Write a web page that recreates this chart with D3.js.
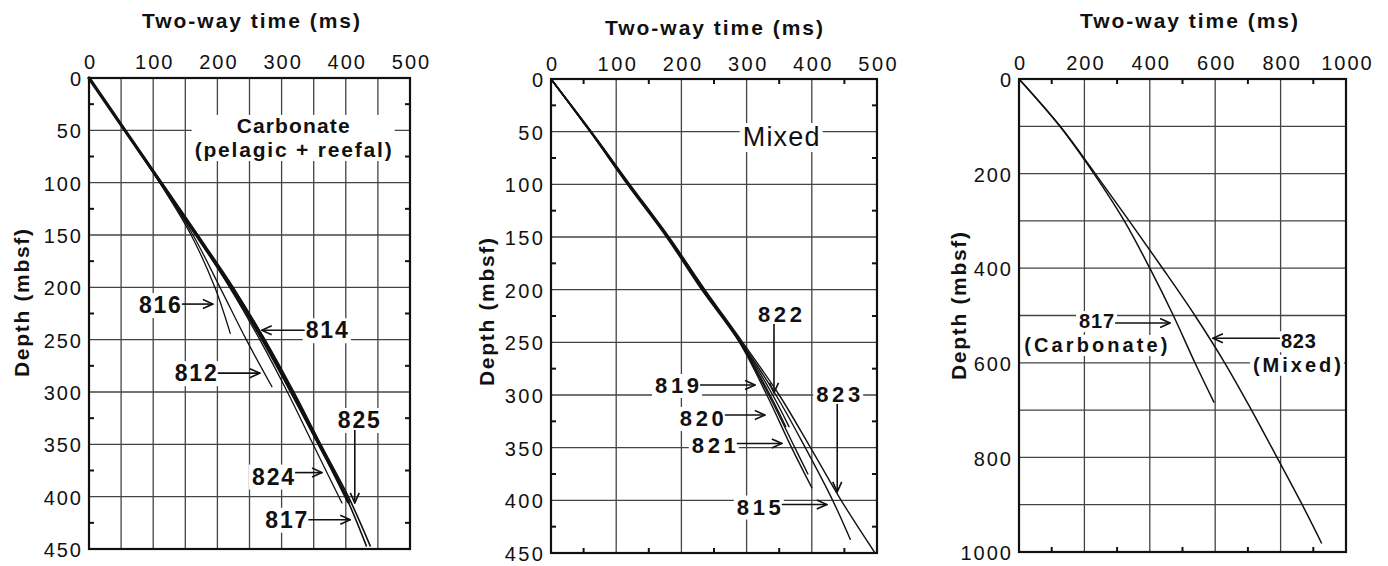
<!DOCTYPE html>
<html><head><meta charset="utf-8">
<script src="https://cdn.jsdelivr.net/npm/d3@7"></script>
<style>
html,body{margin:0;padding:0;background:#fff;}
svg{display:block;}
</style></head><body>
<svg id="chart" width="1388" height="566"></svg>
<script>
// ---------- tick labels ----------
const carbTimeTicks = [0, 100, 200, 300, 400, 500];
const carbDepthTicks = [0, 50, 100, 150, 200, 250, 300, 350, 400, 450];
const mixedTimeTicks = [0, 100, 200, 300, 400, 500];
const mixedDepthTicks = [0, 50, 100, 150, 200, 250, 300, 350, 400, 450];
const compTimeTicks = [0, 200, 400, 600, 800, 1000];
const compDepthTicks = [0, 200, 400, 600, 800, 1000];

// ---------- Carbonate panel: [two-way time ms, depth mbsf] ----------
const site812 = [[0,0],[56,50],[111,100],[162,150],[204,200],[245,250],[285,295]];
const site816 = [[0,0],[56,50],[110,100],[159,150],[196,200],[220,244]];
const site814 = [[0,0],[56,50],[112,100],[168,150],[223,200],[272,250],[316,300],[359,350],[404,405]];
const site825 = [[0,0],[55,50],[111,100],[166,150],[220,200],[269,250],[314,300],[357,350],[400,400],[432,447]];
const site817 = [[0,0],[56,50],[113,100],[169,150],[224,200],[274,250],[319,300],[361,350],[404,400],[438,447]];
const site824 = [[0,0],[56,50],[112,100],[167,150],[219,200],[266,250],[309,300],[349,350],[394,406]];

// ---------- Mixed panel ----------
const site819 = [[0,0],[60,50],[118,100],[178,150],[232,200],[290,250],[336,300],[360,330]];
const site820 = [[0,0],[61,50],[119,100],[179,150],[233,200],[290,250],[334,300],[374,350],[394,375]];
const site821 = [[0,0],[60,50],[117,100],[177,150],[231,200],[289,250],[331,300],[369,350],[400,388]];
const site822 = [[0,0],[61,50],[119,100],[180,150],[234,200],[291,250],[340,300],[365,330]];
const site815 = [[0,0],[61,50],[120,100],[180,150],[235,200],[292,250],[345,300],[390,350],[432,400],[459,437]];
const site823 = [[0,0],[62,50],[121,100],[181,150],[236,200],[294,250],[350,300],[398,350],[445,400],[497,450]];

// ---------- Comparison panel ----------
const compare817 = [[0,0],[125,100],[229,200],[322,300],[400,400],[472,500],[538,600],[596,683]];
const compare823 = [[0,0],[126,100],[233,200],[337,300],[439,400],[538,500],[629,600],[711,700],[789,800],[866,900],[925,981]];

const FONT = '"Liberation Sans", Arial, Helvetica, sans-serif';
const INK = "#111";
const svg = d3.select("#chart");

svg.append("defs").append("marker")
  .attr("id", "arrowHead").attr("viewBox", "0 0 12 12")
  .attr("refX", 11).attr("refY", 6)
  .attr("markerWidth", 12).attr("markerHeight", 12)
  .attr("markerUnits", "userSpaceOnUse").attr("orient", "auto")
  .append("path").attr("d", "M1,1.5 L11,6 L1,10.5")
  .attr("fill", "none").attr("stroke", INK).attr("stroke-width", 1.6);

const panels = [
  {
    x0: 89, x1: 410, y0: 78, y1: 549, tmax: 500, dmax: 450,
    timeTicks: carbTimeTicks, depthTicks: carbDepthTicks,
    vGrid: d3.range(50, 500, 50), hGrid: d3.range(50, 450, 50),
    tMinor: [], dMinor: d3.range(25, 450, 50),
    titleX: 251, titleY: 28, yTitleX: 29, yTitleY: 303, topPad: 9, tickFs: 20, tickLs: 2,
    series: [
      {data: site816, w: 1.3}, {data: site812, w: 1.3}, {data: site824, w: 1.3},
      {data: site825, w: 1.6}, {data: site817, w: 1.6}, {data: site814, w: 3.2}
    ],
    notes: [
      {text: "816", tip: [193, 216], dir: "right", len: 31, dy: 9},
      {text: "814", tip: [269, 241], dir: "left", len: 43, dy: 8},
      {text: "812", tip: [266, 282], dir: "right", len: 42, dy: 8},
      {text: "824", tip: [363, 377], dir: "right", len: 27, dy: 12},
      {text: "817", tip: [407, 422], dir: "right", len: 42, dy: 8},
      {text: "825", tip: [414, 406], dir: "down", len: 73, dx: 4}
    ],
    noteFs: 23, noteTl: 42,
    texts: [
      {text: "Carbonate", at: [318, 52.5], fs: 21, weight: "bold", tl: 113, group: "c"},
      {text: "(pelagic + reefal)", at: [318, 75.5], fs: 21, weight: "bold", tl: 197, group: "c"}
    ]
  },
  {
    x0: 551, x1: 877, y0: 79, y1: 553, tmax: 500, dmax: 450,
    timeTicks: mixedTimeTicks, depthTicks: mixedDepthTicks,
    vGrid: d3.range(100, 500, 100), hGrid: d3.range(50, 450, 50),
    tMinor: d3.range(50, 500, 100), dMinor: d3.range(25, 450, 50),
    titleX: 714, titleY: 35, yTitleX: 494, yTitleY: 312, topPad: 8, tickFs: 20, tickLs: 2.5,
    series: [
      {data: site819, w: 1.4}, {data: site820, w: 1.4}, {data: site821, w: 1.4},
      {data: site822, w: 1.4}, {data: site815, w: 1.4}, {data: site823, w: 1.4}
    ],
    notes: [
      {text: "822", tip: [342, 298], dir: "down", len: 69, dx: 6},
      {text: "819", tip: [313, 290.5], dir: "right", len: 55, dy: 8},
      {text: "820", tip: [328, 319], dir: "right", len: 40, dy: 11},
      {text: "821", tip: [354, 346], dir: "right", len: 45, dy: 10},
      {text: "823", tip: [439, 392], dir: "down", len: 88, dx: 1},
      {text: "815", tip: [423, 404], dir: "right", len: 45, dy: 10}
    ],
    noteFs: 22, noteTl: 44,
    texts: [
      {text: "Mixed", at: [353, 63.6], fs: 27, weight: "normal", tl: 77, group: "m"}
    ]
  },
  {
    x0: 1019, x1: 1346, y0: 79, y1: 552, tmax: 1000, dmax: 1000,
    timeTicks: compTimeTicks, depthTicks: compDepthTicks,
    vGrid: d3.range(200, 1000, 200), hGrid: d3.range(100, 1000, 100),
    tMinor: d3.range(100, 1000, 200), dMinor: [],
    titleX: 1189, titleY: 28, yTitleX: 966, yTitleY: 306, topPad: 9, tickFs: 20, tickLs: 2,
    series: [
      {data: compare817, w: 1.5}, {data: compare823, w: 1.5}
    ],
    notes: [
      {text: "817", tip: [462, 516], dir: "right", len: 55, dy: 5},
      {text: "823", tip: [593, 548], dir: "left", len: 67, dy: 10}
    ],
    noteFs: 20, noteTl: 35,
    texts: [
      {text: "(Carbonate)", at: [235, 577], fs: 20, weight: "bold", tl: 143, group: "a"},
      {text: "(Mixed)", at: [850, 619], fs: 20, weight: "bold", tl: 88, group: "b"}
    ]
  }
];

function drawPanel(p) {
  const x = d3.scaleLinear().domain([0, p.tmax]).range([p.x0, p.x1]);
  const y = d3.scaleLinear().domain([0, p.dmax]).range([p.y0, p.y1]);
  const g = svg.append("g");

  // grid
  g.append("g").selectAll("line").data(p.vGrid).join("line")
    .attr("x1", d => x(d)).attr("x2", d => x(d)).attr("y1", p.y0).attr("y2", p.y1)
    .attr("stroke", "#444").attr("stroke-width", 1.3);
  g.append("g").selectAll("line").data(p.hGrid).join("line")
    .attr("y1", d => y(d)).attr("y2", d => y(d)).attr("x1", p.x0).attr("x2", p.x1)
    .attr("stroke", "#444").attr("stroke-width", 1.3);

  // minor ticks (inward)
  const mt = g.append("g").attr("stroke", INK).attr("stroke-width", 2);
  p.tMinor.forEach(t => {
    mt.append("line").attr("x1", x(t)).attr("x2", x(t)).attr("y1", p.y0).attr("y2", p.y0 + 5);
    mt.append("line").attr("x1", x(t)).attr("x2", x(t)).attr("y1", p.y1).attr("y2", p.y1 - 5);
  });
  p.dMinor.forEach(d => {
    mt.append("line").attr("y1", y(d)).attr("y2", y(d)).attr("x1", p.x0).attr("x2", p.x0 + 5);
    mt.append("line").attr("y1", y(d)).attr("y2", y(d)).attr("x1", p.x1).attr("x2", p.x1 - 5);
  });

  // axes
  const ax = g.append("g").attr("transform", `translate(0,${p.y0})`)
    .call(d3.axisTop(x).tickValues(p.timeTicks).tickSize(0).tickPadding(p.topPad).tickFormat(d3.format("d")));
  ax.select(".domain").remove();
  ax.selectAll("text").attr("font-family", FONT).attr("font-size", p.tickFs)
    .attr("fill", INK).style("letter-spacing", p.tickLs + "px").attr("dx", (p.tickLs / 2) + "px");
  const ay = g.append("g").attr("transform", `translate(${p.x0},0)`)
    .call(d3.axisLeft(y).tickValues(p.depthTicks).tickSize(0).tickPadding(8 - p.tickLs).tickFormat(d3.format("d")));
  ay.select(".domain").remove();
  ay.selectAll("text").attr("font-family", FONT).attr("font-size", p.tickFs)
    .attr("fill", INK).attr("dy", "0.38em").style("letter-spacing", p.tickLs + "px");

  // titles
  g.append("text").attr("x", p.titleX).attr("y", p.titleY).attr("text-anchor", "middle")
    .attr("font-family", FONT).attr("font-size", 21).attr("font-weight", "bold").attr("fill", INK)
    .attr("textLength", 218).attr("lengthAdjust", "spacing").text("Two-way time (ms)");
  g.append("text").attr("transform", `translate(${p.yTitleX},${p.yTitleY}) rotate(-90)`)
    .attr("text-anchor", "middle")
    .attr("font-family", FONT).attr("font-size", 21).attr("font-weight", "bold").attr("fill", INK)
    .attr("textLength", 148).attr("lengthAdjust", "spacing").text("Depth (mbsf)");

  // labels: background boxes first, then text
  const boxLayer = g.append("g");
  const textLayer = g.append("g");
  const boxes = {};
  const addBox = (key, bb) => {
    if (!boxes[key]) boxes[key] = {x0: bb.x, y0: bb.y, x1: bb.x + bb.width, y1: bb.y + bb.height};
    else {
      const b = boxes[key];
      b.x0 = Math.min(b.x0, bb.x); b.y0 = Math.min(b.y0, bb.y);
      b.x1 = Math.max(b.x1, bb.x + bb.width); b.y1 = Math.max(b.y1, bb.y + bb.height);
    }
  };
  p.texts.forEach(t => {
    const el = textLayer.append("text").attr("x", x(t.at[0])).attr("y", y(t.at[1]))
      .attr("text-anchor", "middle").attr("font-family", FONT).attr("font-size", t.fs)
      .attr("font-weight", t.weight).attr("fill", INK)
      .attr("textLength", t.tl).attr("lengthAdjust", "spacing").text(t.text);
    addBox("t" + t.group, el.node().getBBox());
  });

  const arrows = [];
  p.notes.forEach((n, i) => {
    const tx = x(n.tip[0]), ty = y(n.tip[1]);
    let tail, lx, ly, anchor;
    if (n.dir === "right") { tail = [tx - n.len, ty]; lx = tail[0] - 1; ly = ty + n.dy; anchor = "end"; }
    else if (n.dir === "left") { tail = [tx + n.len, ty]; lx = tail[0] + 1; ly = ty + n.dy; anchor = "start"; }
    else { tail = [tx, ty - n.len]; lx = tx + n.dx; ly = tail[1] - 2; anchor = "middle"; }
    const el = textLayer.append("text").attr("x", lx).attr("y", ly).attr("text-anchor", anchor)
      .attr("font-family", FONT).attr("font-size", p.noteFs).attr("font-weight", "bold").attr("fill", INK)
      .attr("textLength", p.noteTl).attr("lengthAdjust", "spacing").text(n.text);
    addBox("n" + i, el.node().getBBox());
    arrows.push({tail, tip: [tx, ty]});
  });
  Object.values(boxes).forEach(b => {
    boxLayer.append("rect").attr("x", b.x0 - 3).attr("y", b.y0 + 1)
      .attr("width", b.x1 - b.x0 + 6).attr("height", b.y1 - b.y0 - 1).attr("fill", "#fff");
  });

  // series
  const line = d3.line().x(d => x(d[0])).y(d => y(d[1])).curve(d3.curveCatmullRom.alpha(0.5));
  g.append("g").selectAll("path").data(p.series).join("path")
    .attr("d", s => line(s.data)).attr("fill", "none").attr("stroke", INK)
    .attr("stroke-width", s => s.w).attr("stroke-linejoin", "round").attr("stroke-linecap", "round");

  // arrows
  g.append("g").selectAll("line").data(arrows).join("line")
    .attr("x1", a => a.tail[0]).attr("y1", a => a.tail[1])
    .attr("x2", a => a.tip[0]).attr("y2", a => a.tip[1])
    .attr("stroke", INK).attr("stroke-width", 1.6).attr("marker-end", "url(#arrowHead)");

  // frame
  g.append("rect").attr("x", p.x0).attr("y", p.y0).attr("width", p.x1 - p.x0).attr("height", p.y1 - p.y0)
    .attr("fill", "none").attr("stroke", INK).attr("stroke-width", 2.2);
}

panels.forEach(drawPanel);
</script>
</body></html>
